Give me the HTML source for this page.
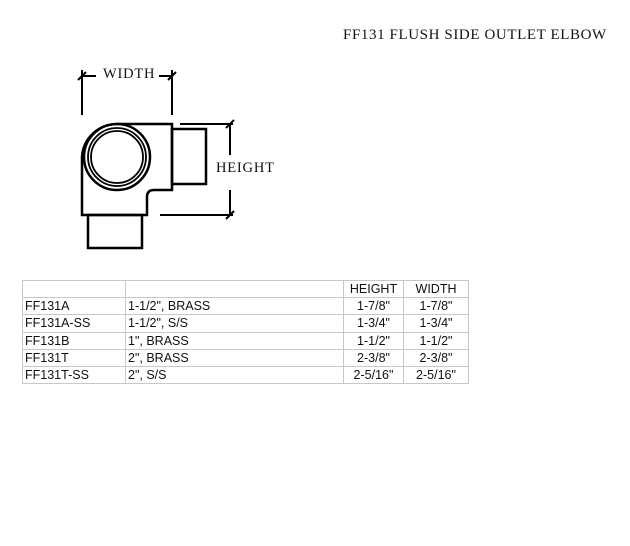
<!DOCTYPE html>
<html><head><style>
body{margin:0;width:630px;height:546px;background:#fff;position:relative;overflow:hidden}
.t{position:absolute;font-family:"Liberation Serif",serif;color:#111}
table{position:absolute;left:22px;top:280px;border-collapse:collapse;table-layout:fixed;width:446px;font-family:"Liberation Sans",sans-serif;font-size:12.5px;color:#111}
td{border:1px solid #c8c8c8;height:16.2px;padding:0 2px;line-height:16px;white-space:nowrap;overflow:hidden}
td.c{text-align:center}
</style></head><body>
<div class="t" style="left:343px;top:27px;font-size:15px;letter-spacing:0.6px">FF131 FLUSH SIDE OUTLET ELBOW</div>
<svg width="630" height="546" style="position:absolute;left:0;top:0" fill="none" stroke="#000">
<g stroke-width="2">
<line x1="82" y1="70" x2="82" y2="115"/><line x1="172" y1="70" x2="172" y2="115"/>
<line x1="82" y1="76" x2="96" y2="76"/><line x1="159" y1="76" x2="172" y2="76"/>
<line x1="78" y1="80" x2="86" y2="72"/><line x1="168" y1="80" x2="176" y2="72"/>
<path d="M117 124 H172 V190 H154 Q147 190 147 197 V215 H82 V157 A35 35 0 0 1 117 124" stroke-width="2.5"/>
<circle cx="117" cy="157" r="33" stroke-width="2.5"/>
<circle cx="117" cy="157" r="29" stroke-width="1.8"/>
<circle cx="117" cy="157" r="26" stroke-width="1.8"/>
<rect x="172" y="129" width="34" height="55" stroke-width="2.5"/>
<rect x="88" y="215" width="54" height="33" stroke-width="2.5"/>
<line x1="180" y1="124" x2="233" y2="124"/><line x1="160" y1="215" x2="233" y2="215"/>
<line x1="230" y1="124" x2="230" y2="155"/><line x1="230" y1="190" x2="230" y2="215"/>
<line x1="226" y1="128" x2="234" y2="120"/><line x1="226" y1="219" x2="234" y2="211"/>
</g></svg>
<div class="t" style="left:103px;top:66px;font-size:14.5px;letter-spacing:0.8px">WIDTH</div>
<div class="t" style="left:216px;top:160px;font-size:14.5px;letter-spacing:0.8px">HEIGHT</div>
<table>
<colgroup><col style="width:103px"><col style="width:218px"><col style="width:60px"><col style="width:65px"></colgroup>
<tr><td></td><td></td><td class="c">HEIGHT</td><td class="c">WIDTH</td></tr>
<tr><td>FF131A</td><td>1-1/2", BRASS</td><td class="c">1-7/8"</td><td class="c">1-7/8"</td></tr>
<tr><td>FF131A-SS</td><td>1-1/2", S/S</td><td class="c">1-3/4"</td><td class="c">1-3/4"</td></tr>
<tr><td>FF131B</td><td>1", BRASS</td><td class="c">1-1/2"</td><td class="c">1-1/2"</td></tr>
<tr><td>FF131T</td><td>2", BRASS</td><td class="c">2-3/8"</td><td class="c">2-3/8"</td></tr>
<tr><td>FF131T-SS</td><td>2", S/S</td><td class="c">2-5/16"</td><td class="c">2-5/16"</td></tr>
</table>
</body></html>
